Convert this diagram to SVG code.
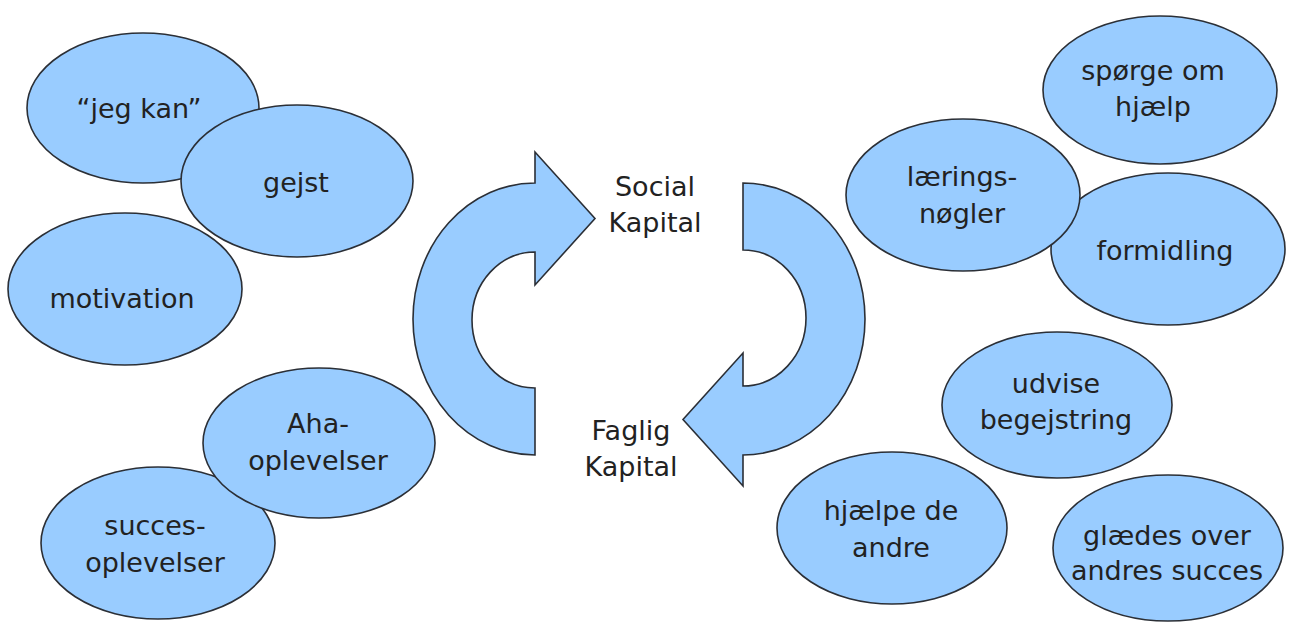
<svg xmlns="http://www.w3.org/2000/svg" width="1292" height="624" viewBox="0 0 1292 624">
<style>
.n ellipse{fill:#99ccff;stroke:#2b2f36;stroke-width:1.6}
.c{fill:#99ccff;stroke:#2b2f36;stroke-width:1.6;stroke-linejoin:miter}
text{font-family:"DejaVu Sans","Liberation Sans",sans-serif;font-size:27px;fill:#222;text-anchor:middle}
</style>
<defs>
<path id="arr" d="M535,183 L535,152 L595,218.5 L535,285 L535,252 A63,68 0 0 0 535,388 L535,455 A122,136 0 0 1 535,183 Z"/>
</defs>
<rect width="1292" height="624" fill="#fff"/>
<g id="connectors" class="c" fill="#99ccff" stroke="#2b2f36" stroke-width="1.6">
<use href="#arr"/>
<use href="#arr" transform="rotate(180 639 319)"/>
</g>
<g id="jegkan" class="n"><ellipse cx="143" cy="108" rx="116" ry="75"/><text x="139" y="118">“jeg kan”</text></g>
<g id="gejst" class="n"><ellipse cx="297" cy="181" rx="116" ry="76"/><text x="296" y="192">gejst</text></g>
<g id="motivation" class="n"><ellipse cx="125" cy="289" rx="117" ry="76"/><text x="122" y="308">motivation</text></g>
<g id="succes" class="n"><ellipse cx="158" cy="543" rx="117" ry="76"/><text x="155" y="535">succes-</text><text x="155" y="572">oplevelser</text></g>
<g id="aha" class="n"><ellipse cx="319" cy="443" rx="116" ry="75"/><text x="318" y="433">Aha-</text><text x="318" y="470">oplevelser</text></g>
<g id="social"><text x="655" y="196">Social</text><text x="655" y="232">Kapital</text></g>
<g id="faglig"><text x="631" y="440">Faglig</text><text x="631" y="476">Kapital</text></g>
<g id="sporge" class="n"><ellipse cx="1160" cy="90" rx="117" ry="74"/><text x="1153" y="80">spørge om</text><text x="1153" y="116">hjælp</text></g>
<g id="formidling" class="n"><ellipse cx="1168" cy="249" rx="117" ry="76"/><text x="1165" y="260">formidling</text></g>
<g id="laerings" class="n"><ellipse cx="963" cy="195" rx="117" ry="76"/><text x="962" y="186">lærings-</text><text x="962" y="223">nøgler</text></g>
<g id="udvise" class="n"><ellipse cx="1057" cy="405" rx="115" ry="73"/><text x="1056" y="393">udvise</text><text x="1056" y="429">begejstring</text></g>
<g id="hjaelpe" class="n"><ellipse cx="892" cy="528" rx="115" ry="76"/><text x="891" y="520">hjælpe de</text><text x="891" y="557">andre</text></g>
<g id="glaedes" class="n"><ellipse cx="1168" cy="548" rx="115" ry="73"/><text x="1167" y="545">glædes over</text><text x="1167" y="580">andres succes</text></g>
</svg>
